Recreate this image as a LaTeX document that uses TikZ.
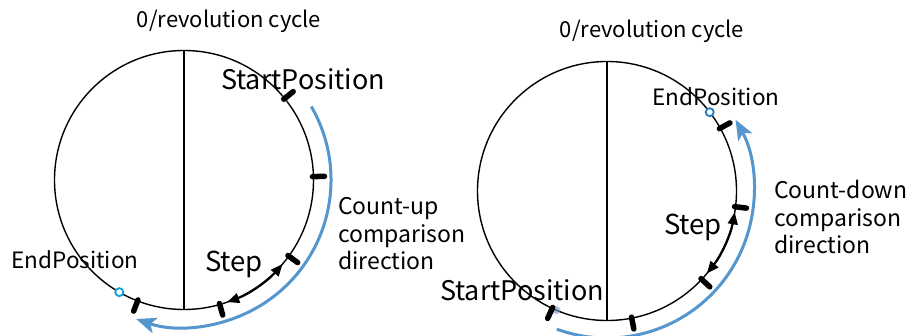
\documentclass[tikz,border=0pt]{standalone}
\usepackage{fontspec}
\setmainfont{Noto Sans CJK SC}
\usetikzlibrary{arrows.meta,calc}
\definecolor{dirblue}{RGB}{84,150,205}
\definecolor{endcyan}{RGB}{20,160,220}
\definecolor{endblue}{RGB}{40,120,190}
\definecolor{glow}{RGB}{120,150,190}
\tikzset{
  ring/.style={line width=1.4pt},
  axis/.style={line width=1.2pt},
  tickmark/.style={line width=5.5pt,line cap=round},
  dirarrow/.style={dirblue,line width=3pt,-{Stealth[length=20pt,width=16pt,inset=5pt]}},
  steparrow/.style={line width=1.8pt,{Triangle[length=12pt,width=10pt]}-{Triangle[length=12pt,width=10pt]}},
  titlelbl/.style={inner sep=0pt,font=\fontsize{22}{24}\selectfont},
  poslbl/.style={inner sep=0pt,font=\fontsize{27}{29}\selectfont},
  endlbl/.style={inner sep=0pt,font=\fontsize{22.5}{24}\selectfont},
  steplbl/.style={inner sep=0pt,font=\fontsize{27.5}{29}\selectfont},
  dirlbl/.style={inner sep=0pt,anchor=west,align=left,font=\fontsize{23}{27.5}\selectfont},
  endmark/.style={circle,draw,line width=1.8pt,fill=white,minimum size=8pt,inner sep=0pt},
}
\begin{document}
\begin{tikzpicture}[x=1pt,y=1pt]
\clip (0,0) rectangle (910,335);
\fill[white] (0,0) rectangle (910,335);
\def\R{129.5}
% ---------- left ----------
\coordinate (L) at (184,155);
\node[titlelbl] (ltitle) at (229,314) {0/revolution cycle};
\draw[ring] (L) circle[radius=\R];
\draw[axis] ($(L)+(0,\R)$) coordinate (ltop) -- ($(L)+(0,-\R)$) coordinate (lbot);
% blue direction arc
\draw[dirarrow] ($(L)+(30:147)$) arc[start angle=30,end angle=-109,radius=147];
% start glow and ticks
\fill[glow,opacity=0.6] ($(L)+(39:\R)$) circle[radius=4];
\foreach \a in {39,1.5,-36,-74,-111}{
  \draw[tickmark] ($(L)+(\a:\R-1)$) -- ($(L)+(\a:\R+11)$);
}
% step arrow
\draw[steparrow] ($(L)+(-70.5:\R)$) arc[start angle=-70.5,end angle=-40.5,radius=\R];
% end marker
\node[endmark,draw=endcyan] (lend) at ($(L)+(-120:\R)$) {};
\node[poslbl] (lstart) at (303,256) {StartPosition};
\node[endlbl] (lendlbl) at (75,75) {EndPosition};
\node[steplbl] (lstep) at (234,71) {Step};
\node[dirlbl] (ldir) at (338,101) {Count-up\\comparison\\direction};
% ---------- right ----------
\coordinate (Rc) at (607,144);
\node[titlelbl] (rtitle) at (652,304) {0/revolution cycle};
\draw[ring] (Rc) circle[radius=\R];
\draw[axis] ($(Rc)+(0,\R)$) coordinate (rtop) -- ($(Rc)+(0,-\R)$) coordinate (rbot);
\draw[dirarrow] ($(Rc)+(-110:147)$) arc[start angle=-110,end angle=29,radius=147];
\fill[glow,opacity=0.6] ($(Rc)+(-113:\R)$) circle[radius=4];
\foreach \a in {-115,-79,-43,-7,29}{
  \draw[tickmark] ($(Rc)+(\a:\R-1)$) -- ($(Rc)+(\a:\R+11)$);
}
\draw[steparrow] ($(Rc)+(-39.5:\R)$) arc[start angle=-39.5,end angle=-9.5,radius=\R];
\node[endmark,draw=endblue] (rend) at ($(Rc)+(37.5:\R)$) {};
\node[endlbl] (rendlbl) at (716,238) {EndPosition};
\node[poslbl] (rstart) at (522,45) {StartPosition};
\node[steplbl] (rstep) at (693,108) {Step};
\node[dirlbl] (rdir) at (774,118) {Count-down\\comparison\\direction};
\end{tikzpicture}
\end{document}
